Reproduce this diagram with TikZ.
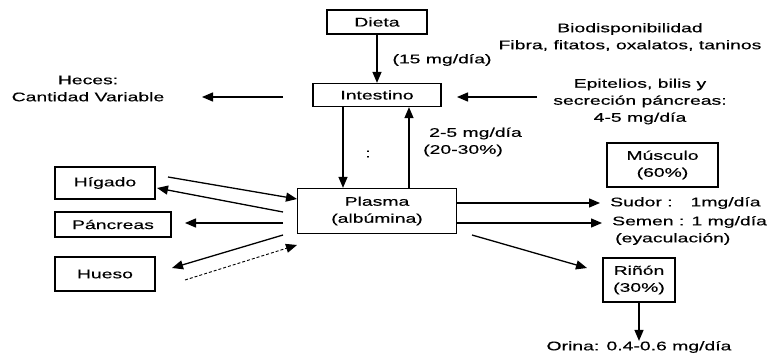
\documentclass[tikz,border=0pt]{standalone}
\usepackage{fontspec}
\setmainfont[FakeStretch=1.55,FakeBold=0.4]{Liberation Sans}
\usetikzlibrary{arrows.meta}
\newcommand{\dtxt}{\fontsize{12.5}{17}\selectfont}
\begin{document}
\begin{tikzpicture}[
    x=1pt, y=-1pt,
    box/.style = { draw, rectangle, line width=1.3pt, align=center, font=\dtxt, inner sep=0pt },
    txt/.style = { align=center, font=\dtxt, inner sep=0pt },
    flecha/.style = { line width=1.3pt, -{Triangle[length=11pt,width=9pt]} }
    ]
\useasboundingbox (0,0) rectangle (774,353);
%
\node[box, minimum width=100pt, minimum height=24pt] (Dieta) at (377,22) {Dieta};
\node[box, minimum width=128pt, minimum height=23pt] (Intestino) at (377,95) {Intestino};
\node[box, minimum width=159pt, minimum height=45pt] (Plasma) at (377,211) {Plasma\\(albúmina)};
\node[box, minimum width=111pt, minimum height=44pt] (Musculo) at (662.5,165) {Músculo\\(60\%)};
\node[box, minimum width=72pt, minimum height=44pt] (Rinon) at (639,280) {Riñón\\(30\%)};
\node[box, minimum width=100pt, minimum height=32pt] (Higado) at (105,183) {Hígado};
\node[box, minimum width=116pt, minimum height=25pt] (Pancreas) at (113,224.5) {Páncreas};
\node[box, minimum width=100pt, minimum height=34pt] (Hueso) at (105,274) {Hueso};
%
\node[txt] (Heces) at (88,88.5) {Heces:\\Cantidad Variable};
\node[txt] (Bio) at (630,37) {Biodisponibilidad\hspace{16pt}\\Fibra, fitatos, oxalatos, taninos};
\node[txt] (Epit) at (640,101.5) {Epitelios, bilis y\\secreción páncreas:\\4-5 mg/día};
\node[txt] (Dosis) at (442,60) {(15 mg/día)};
\node[txt] (Puntos) at (368,154) {:};
\node[txt, align=left, anchor=west] (Reabs) at (423,142) {\hspace{6pt}2-5 mg/día\\(20-30\%)};
\node[txt, anchor=west] (Sudor) at (610,203) {Sudor : \ \ 1mg/día};
\node[txt, anchor=west] (Semen) at (612,222) {Semen : 1 mg/día};
\node[txt, anchor=west] (Eyac) at (615,239) {(eyaculación)};
\node[txt] (Orina) at (639,347) {Orina: 0.4-0.6 mg/día};
%
\coordinate (hig1) at (168,177);
\coordinate (pla1) at (297,199);
\coordinate (pla2) at (283,212);
\coordinate (hig2) at (157,188);
\coordinate (pla3) at (283,223);
\coordinate (pan1) at (185,223);
\coordinate (pla4) at (283,235);
\coordinate (hue1) at (172,268);
\coordinate (hue2) at (185,280);
\coordinate (pla5) at (297,245);
\coordinate (pla6) at (472,235);
\coordinate (rin1) at (587,268);
\coordinate (int1) at (283,97);
\coordinate (hec1) at (202,97);
\coordinate (epi1) at (537,97);
\coordinate (int2) at (457,97);
\coordinate (sud1) at (600,203);
\coordinate (sem1) at (602,223);
%
\foreach \Source/\Target in {%
        Dieta/Intestino,
        hig1/pla1,
        pla2/hig2,
        pla3/pan1,
        pla4/hue1,
        pla6/rin1,
        int1/hec1,
        epi1/int2,
        Rinon/Orina%
    }
\draw[flecha] (\Source) to (\Target);
\draw[flecha, line width=0.9pt, densely dashed] (hue2) -- (pla5);
\draw[flecha] (Plasma.east |- sud1) -- (sud1);
\draw[flecha] (Plasma.east |- sem1) -- (sem1);
\draw[flecha] ([xshift=-34pt]Intestino.south) -- ([xshift=-34pt]Plasma.north);
\draw[flecha] ([xshift=32pt]Plasma.north) -- ([xshift=32pt]Intestino.south);
\end{tikzpicture}
\end{document}
